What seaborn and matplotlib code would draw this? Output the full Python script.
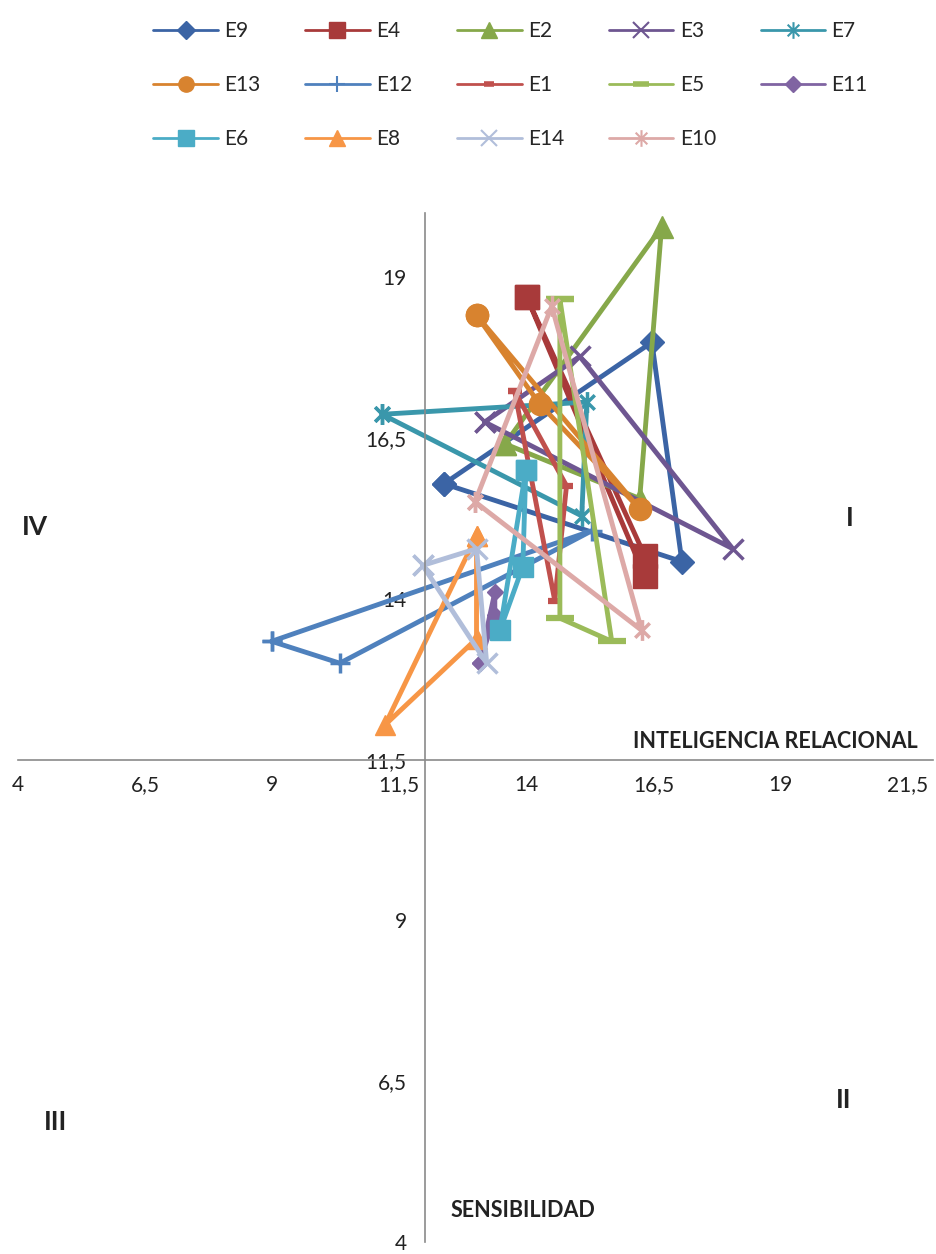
import numpy as np
import pandas as pd
import matplotlib
matplotlib.use("Agg")
import matplotlib.pyplot as plt
from matplotlib.lines import Line2D
from matplotlib.path import Path
from matplotlib.ticker import FuncFormatter
import seaborn as sns

# ordine delle serie come nella legenda
series = ["E9", "E4", "E2", "E3", "E7", "E13", "E12", "E1", "E5", "E11", "E6", "E8", "E14", "E10"]

# coordinate (inteligencia relacional, sensibilidad), ogni triangolo chiuso
e9_x = [12.38, 16.47, 17.06, 12.38]
e9_y = [15.79, 17.99, 14.58, 15.79]
e4_x = [14.01, 16.33, 16.33, 14.01]
e4_y = [18.69, 14.67, 14.35, 18.69]
e2_x = [13.58, 16.66, 16.23, 13.58]
e2_y = [16.41, 19.78, 15.56, 16.41]
e3_x = [13.18, 15.05, 18.06, 13.18]
e3_y = [16.75, 17.77, 14.78, 16.75]
e7_x = [11.16, 15.19, 15.09, 11.16]
e7_y = [16.87, 17.06, 15.29, 16.87]
e13_x = [13.02, 14.26, 16.23, 13.02]
e13_y = [18.41, 17.03, 15.40, 18.41]
e12_x = [8.99, 10.33, 15.29, 8.99]
e12_y = [13.34, 13.00, 15.06, 13.34]
e1_x = [13.77, 14.56, 14.79, 13.77]
e1_y = [17.23, 13.97, 15.76, 17.23]
e5_x = [14.66, 14.66, 15.68, 14.66]
e5_y = [18.66, 13.70, 13.34, 18.66]
e11_x = [13.08, 13.38, 13.38, 13.08]
e11_y = [13.00, 14.10, 13.75, 13.00]
e6_x = [13.99, 13.48, 13.93, 13.99]
e6_y = [16.00, 13.51, 14.50, 16.00]
e8_x = [13.02, 11.22, 13.02, 13.02]
e8_y = [14.98, 12.04, 13.38, 14.98]
e14_x = [11.96, 13.02, 13.22, 11.96]
e14_y = [14.52, 14.78, 13.00, 14.52]
e10_x = [12.99, 14.50, 16.27, 12.99]
e10_y = [15.51, 18.55, 13.51, 15.51]

xs = [e9_x, e4_x, e2_x, e3_x, e7_x, e13_x, e12_x, e1_x, e5_x, e11_x, e6_x, e8_x, e14_x, e10_x]
ys = [e9_y, e4_y, e2_y, e3_y, e7_y, e13_y, e12_y, e1_y, e5_y, e11_y, e6_y, e8_y, e14_y, e10_y]

x_ticks = [4, 6.5, 9, 11.5, 14, 16.5, 19, 21.5]
y_ticks = [4, 6.5, 9, 11.5, 14, 16.5, 19]

df = pd.concat([pd.DataFrame({"serie": s, "ir": x, "sens": y, "ordine": range(len(x))})
                for s, x, y in zip(series, xs, ys)], ignore_index=True)

# stella stile Excel (x + linea verticale)
star = Path([(0, -1), (0, 1), (-0.7, -0.7), (0.7, 0.7), (-0.7, 0.7), (0.7, -0.7)],
            [Path.MOVETO, Path.LINETO, Path.MOVETO, Path.LINETO, Path.MOVETO, Path.LINETO])

colors = ["#3B64A5", "#A83A3A", "#86A84A", "#6E5691", "#3A97AB", "#D8832F", "#4F81BD",
          "#C0504D", "#9BBB59", "#8064A2", "#4BACC6", "#F79646", "#B1BEDA", "#DDA9A7"]
markers = ["D", "s", "^", "x", star, "o", "+", "_", "_", "D", "s", "^", "x", star]
msizes = [12, 17, 16, 15, 15, 16, 15, 10, 20, 8, 14, 15, 15, 15]
leg_sizes = [9, 12, 11, 12, 12, 11, 12, 7, 11, 8, 12, 11, 12, 12]

sns.set_style("white")
plt.rcParams["font.family"] = ["Lato", "DejaVu Sans"]

fig = plt.figure(figsize=(9.37, 12.54), dpi=100)
ax = fig.add_axes([18 / 937, 12 / 1254, 915 / 937, 1029 / 1254])

for s, c, m, ms in zip(series, colors, markers, msizes):
    sub = df[df["serie"] == s]
    mew = 2.5 if m in ("x", "+") or isinstance(m, Path) else (4.5 if m == "_" else 1)
    sns.lineplot(data=sub, x="ir", y="sens", sort=False, estimator=None, ax=ax,
                 color=c, lw=3.5, marker=m, markersize=ms, markeredgewidth=mew,
                 markeredgecolor=c, markerfacecolor=c if not isinstance(m, Path) else "none",
                 legend=False, clip_on=False)

ax.set_xlim(4, 22)
ax.set_ylim(4, 20)
ax.set_xticks(x_ticks)
ax.set_yticks(y_ticks)
fmt = FuncFormatter(lambda v, _: f"{v:g}".replace(".", ","))
ax.xaxis.set_major_formatter(fmt)
ax.yaxis.set_major_formatter(fmt)
ax.set_xlabel("")
ax.set_ylabel("")

for side in ["top", "right"]:
    ax.spines[side].set_visible(False)
ax.spines["left"].set_position(("data", 12))
ax.spines["bottom"].set_position(("data", 11.5))
for side in ["left", "bottom"]:
    ax.spines[side].set_color("#8A8A8A")
    ax.spines[side].set_linewidth(1.2)
ax.tick_params(axis="x", direction="inout", length=10, width=1, color="#8A8A8A",
               pad=6, labelsize=15, labelcolor="#222222")
ax.tick_params(axis="y", direction="out", length=5, width=1, color="#8A8A8A",
               pad=8, labelsize=15, labelcolor="#222222")

# etichette assi e quadranti
fig.text(0.827, 0.4083, "INTELIGENCIA RELACIONAL", ha="center", va="center",
         fontsize=15.5, fontweight="bold", color="#222222")
fig.text(0.558, 0.0343, "SENSIBILIDAD", ha="center", va="center",
         fontsize=15.5, fontweight="bold", color="#222222")
for txt, fx, fy in [("IV", 0.0374, 0.5797), ("I", 0.907, 0.587),
                    ("III", 0.0587, 0.1053), ("II", 0.90, 0.1228)]:
    fig.text(fx, fy, txt, ha="center", va="center", fontsize=19,
             fontweight="bold", color="#222222")

# legenda 3 righe x 5 colonne (riordinata per riempimento per righe)
handles = []
for c, m, ms in zip(colors, markers, leg_sizes):
    mew = 1.5 if m in ("x", "+") or isinstance(m, Path) else (4 if m == "_" else 1)
    handles.append(Line2D([], [], color=c, lw=2, marker=m, markersize=ms, markeredgewidth=mew,
                          markeredgecolor=c,
                          markerfacecolor=c if not isinstance(m, Path) else "none"))
order = [i for col in range(5) for i in range(col, len(series), 5)]
fig.legend([handles[i] for i in order], [series[i] for i in order], ncol=5,
           loc="upper left", bbox_to_anchor=(0.148, 0.995), frameon=False,
           fontsize=15, handlelength=3.1, handletextpad=0.3, columnspacing=2.15,
           labelspacing=1.64, borderpad=0.2)

fig.savefig("out.png", dpi=100)
